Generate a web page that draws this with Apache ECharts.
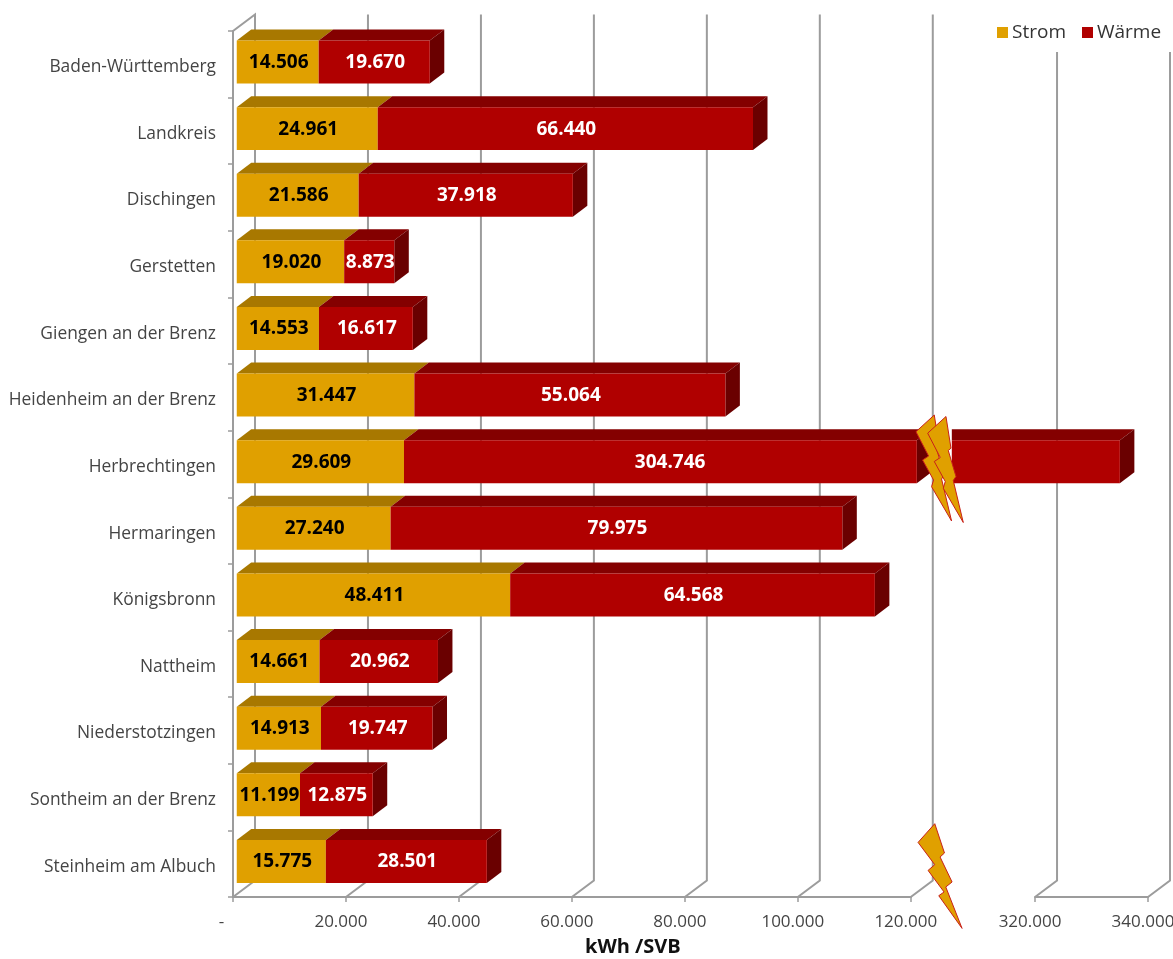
<!DOCTYPE html>
<html>
<head>
<meta charset="utf-8">
<script src="https://cdn.jsdelivr.net/npm/echarts@6/dist/echarts.min.js"></script>
<style>html,body{margin:0;padding:0;background:#fff}#c{width:1173px;height:959px}</style>
</head>
<body>
<div id="c"></div>
<script>
const gemeinden = ['Baden-Württemberg','Landkreis','Dischingen','Gerstetten','Giengen an der Brenz','Heidenheim an der Brenz','Herbrechtingen','Hermaringen','Königsbronn','Nattheim','Niederstotzingen','Sontheim an der Brenz','Steinheim am Albuch'];
const strom = [14506,24961,21586,19020,14553,31447,29609,27240,48411,14661,14913,11199,15775];
const waerme = [19670,66440,37918,8873,16617,55064,304746,79975,64568,20962,19747,12875,28501];
const achsenTicks = [0,20000,40000,60000,80000,100000,120000,320000,340000];

// Pseudo-3D geometry: wall depth and bar depth in pixels
const WALL_DX = 22, WALL_DY = 16.5, BAR_DX = 14.5, BAR_DY = 11;
const OFF_X = 3.75, OFF_Y = 2.3;
const BREAK_START = 120000, BREAK_END = 320000;
const CUT_START = 123700, CUT_END = 180000;
const FONT = '"Open Sans", "Noto Sans", sans-serif';

const fmt = v => String(v).replace(/\B(?=(\d{3})+$)/g, '.');

const stromRows = strom.map((v, i) => [0, v, i, v]);
const waermeRows = waerme.map((v, i) => [strom[i], strom[i] + v, i, v]);

function barPiece(api, x0, x1, yc, h, colors, showSide, flatLeft) {
  const yt = yc - h / 2, yb = yc + h / 2, kids = [];
  kids.push({type:'polygon', shape:{points:[[x0,yt],[x1,yt],[x1+BAR_DX,yt-BAR_DY],[flatLeft?x0:x0+BAR_DX,yt-BAR_DY]]}, style:{fill:colors[1]}});
  if (showSide) kids.push({type:'polygon', shape:{points:[[x1,yt],[x1+BAR_DX,yt-BAR_DY],[x1+BAR_DX,yb-BAR_DY],[x1,yb]]}, style:{fill:colors[2]}});
  kids.push({type:'rect', shape:{x:x0,y:yt,width:x1-x0,height:h}, style:{fill:colors[0]}});
  return kids;
}

function stackItem(colors, labelColor, showSide) {
  return function (params, api) {
    const cat = api.value(2), a = api.value(0), b = api.value(1);
    const yc = api.coord([0, cat])[1] - OFF_Y;
    const h = api.size([0, 1])[1] * 0.645;
    const px = v => api.coord([v, cat])[0] + OFF_X;
    let kids, labelX;
    if (b > BREAK_END) {
      kids = barPiece(api, px(a), px(CUT_START), yc, h, colors, true, false)
        .concat(barPiece(api, px(CUT_END), px(b), yc, h, colors, showSide, true));
      labelX = (px(a) + (px(CUT_START) + px(CUT_END)) / 2) / 2 + 1;
    } else {
      kids = barPiece(api, px(a), px(b), yc, h, colors, showSide, false);
      labelX = (px(a) + px(b)) / 2 + 1;
    }
    kids.push({type:'text', style:{text:fmt(api.value(3)), x:labelX, y:yc + 0.5, fill:labelColor, align:'center', verticalAlign:'middle', font:'bold 19px ' + FONT}});
    return {type:'group', children:kids};
  };
}

// Back wall and floor lines, one per tick
function wallItem(params, api) {
  const v = api.value(0), cs = params.coordSys;
  const x = api.coord([v, 0])[0], bottom = cs.y + cs.height, top = cs.y;
  const pts = [[x,bottom],[x+WALL_DX,bottom-WALL_DY],[x+WALL_DX,top-WALL_DY]];
  if (v === 0) pts.push([x,top]);
  return {type:'polyline', shape:{points:pts}, style:{fill:null, stroke:'#9c9c9c', lineWidth:2}};
}

// Lightning marks over the axis break
const BOLT_SLIM = [[0,0],[5,31.7],[2.3,34],[10,60],[7.3,64],[17.3,106],[-2.7,71.7],[-0.7,65],[-11.7,45],[-5.7,41],[-18.3,16.7]];
const BOLT_WIDE = [[0,0],[9.7,29.3],[5.3,33.3],[17.3,58.3],[11,63.3],[27.3,104.7],[4,72],[9.3,68.3],[-6.7,46.7],[0,41],[-16.7,18.7]];
function boltItem(params, api) {
  const cat = api.value(0), c = api.coord([BREAK_START, cat]);
  const cx = c[0] + 23.5;
  const poly = (shape, x, y) => ({type:'polygon', shape:{points:shape.map(p => [p[0]+x, p[1]+y])}, style:{fill:'#e0a000', stroke:'#c8201a', lineWidth:1}});
  if (cat === 6) {
    return {type:'group', children:[poly(BOLT_SLIM, cx, c[1]-49), poly(BOLT_SLIM, cx+11.7, c[1]-47.5)]};
  }
  return poly(BOLT_WIDE, cx + 0.5, c[1]-40);
}

const chart = echarts.init(document.getElementById('c'), null, {renderer:'canvas'});
chart.setOption({
  animation:false,
  backgroundColor:'#fff',
  title:{text:'kWh /SVB', left:585, top:937, padding:0, textStyle:{fontFamily:FONT, fontSize:20, fontWeight:'bold', color:'#111'}},
  legend:{
    data:['Strom','Wärme'], left:990, top:14, width:183, padding:[9,13,10,7], itemGap:16, itemWidth:11, itemHeight:11, icon:'rect',
    backgroundColor:'#fff', z:5,
    textStyle:{fontFamily:FONT, fontSize:19, color:'#333', padding:[0,0,0,-1]}
  },
  grid:{left:233, right:25, top:31, bottom:62, outerBoundsMode:'none'},
  xAxis:{
    type:'value', min:0, max:340000, interval:20000,
    breaks:[{start:BREAK_START, end:BREAK_END, gap:22000}],
    breakArea:{show:false},
    axisLine:{show:true, lineStyle:{color:'#9c9c9c', width:2}},
    axisTick:{show:true, length:5, lineStyle:{color:'#9c9c9c', width:1.5}},
    splitLine:{show:false},
    axisLabel:{
      margin:17, fontFamily:FONT, fontSize:17, color:'#444', padding:[0,10,0,0], hideOverlap:false,
      formatter: v => v === 0 ? '-   ' : fmt(v)
    }
  },
  yAxis:{
    type:'category', inverse:true, data:gemeinden,
    axisLine:{show:true, lineStyle:{color:'#9c9c9c', width:2}},
    axisTick:{show:true, length:5, lineStyle:{color:'#9c9c9c', width:1.5}},
    splitLine:{show:false},
    axisLabel:{
      margin:17, interval:0, formatter: v => '{n|' + v + '}',
      rich:{n:{fontFamily:FONT, fontSize:17.4, color:'#444', padding:[6,0,0,0]}}
    }
  },
  series:[
    {type:'custom', name:'wand', renderItem:wallItem, data:achsenTicks.map(v => [v]), encode:{x:0}, clip:false, z:1, silent:true},
    {type:'custom', name:'Strom', renderItem:stackItem(['#e0a000','#a87800','#8a6400'],'#000',false), data:stromRows, encode:{x:[0,1], y:2}, clip:false, z:2, itemStyle:{color:'#e0a000'}},
    {type:'custom', name:'Wärme', renderItem:stackItem(['#b00000','#840000','#6a0000'],'#fff',true), data:waermeRows, encode:{x:[0,1], y:2}, clip:false, z:2, itemStyle:{color:'#b00000'}},
    {type:'custom', name:'blitz', renderItem:boltItem, data:[[6],[12]], encode:{y:0}, clip:false, z:3, silent:true}
  ]
});
</script>
</body>
</html>
